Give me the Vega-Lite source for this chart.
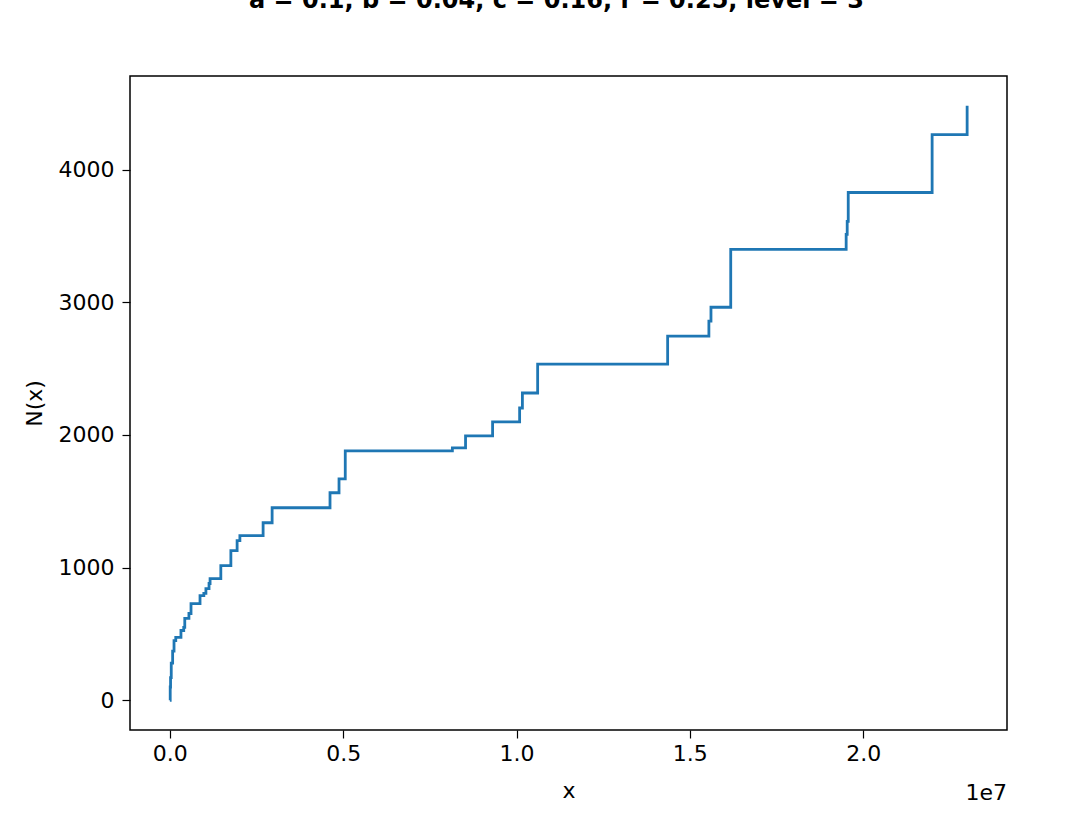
{
  "$schema": "https://vega.github.io/schema/vega-lite/v6.json",
  "width": 877,
  "height": 654,
  "autosize": {"type": "none"},
  "padding": {"left": 130, "top": 76, "right": 69, "bottom": 93},
  "background": "white",
  "config": {
    "view": {"stroke": "black", "strokeWidth": 1.5},
    "font": "DejaVu Sans",
    "axis": {
      "grid": false,
      "domain": false,
      "tickColor": "black",
      "tickSize": 8,
      "tickWidth": 1.2,
      "labelColor": "black",
      "labelFont": "DejaVu Sans",
      "labelFontSize": 22,
      "titleFont": "DejaVu Sans",
      "titleFontSize": 22,
      "titleFontWeight": "normal",
      "titleColor": "black"
    }
  },
  "title": {
    "text": "a = 0.1, b = 0.04, c = 0.16, r = 0.25, level = 3",
    "font": "DejaVu Sans",
    "fontSize": 24,
    "fontWeight": "bold",
    "color": "black",
    "anchor": "middle",
    "baseline": "alphabetic",
    "offset": 44,
    "dx": -12
  },
  "layer": [
    {
      "data": {
        "values": [
          {"x": 0, "y": 0},
          {"x": 10000, "y": 100},
          {"x": 20000, "y": 170},
          {"x": 40000, "y": 280},
          {"x": 80000, "y": 370},
          {"x": 120000, "y": 450},
          {"x": 170000, "y": 474},
          {"x": 320000, "y": 526},
          {"x": 400000, "y": 549},
          {"x": 430000, "y": 617},
          {"x": 550000, "y": 654},
          {"x": 610000, "y": 729},
          {"x": 870000, "y": 789},
          {"x": 980000, "y": 805},
          {"x": 1040000, "y": 842},
          {"x": 1130000, "y": 880},
          {"x": 1160000, "y": 917},
          {"x": 1470000, "y": 1015},
          {"x": 1760000, "y": 1128},
          {"x": 1940000, "y": 1203},
          {"x": 2020000, "y": 1241},
          {"x": 2690000, "y": 1338},
          {"x": 2950000, "y": 1451},
          {"x": 4620000, "y": 1564},
          {"x": 4880000, "y": 1669},
          {"x": 5060000, "y": 1880},
          {"x": 8150000, "y": 1902},
          {"x": 8530000, "y": 1992},
          {"x": 9310000, "y": 2098},
          {"x": 10090000, "y": 2203},
          {"x": 10170000, "y": 2316},
          {"x": 10610000, "y": 2534},
          {"x": 14360000, "y": 2744},
          {"x": 15550000, "y": 2857},
          {"x": 15610000, "y": 2962},
          {"x": 16180000, "y": 3398},
          {"x": 19510000, "y": 3511},
          {"x": 19540000, "y": 3609},
          {"x": 19570000, "y": 3827},
          {"x": 21990000, "y": 4263},
          {"x": 23000000, "y": 4481}
        ]
      },
      "mark": {"type": "line", "interpolate": "step-after", "color": "#1f77b4", "strokeWidth": 2.8},
      "encoding": {
        "x": {
          "field": "x",
          "type": "quantitative",
          "scale": {"domain": [-1150000, 24150000], "nice": false, "zero": false},
          "axis": {
            "title": "x",
            "titlePadding": 16,
            "labelPadding": 5,
            "values": [0, 5000000, 10000000, 15000000, 20000000],
            "labelExpr": "format(datum.value / 10000000, '.1f')"
          }
        },
        "y": {
          "field": "y",
          "type": "quantitative",
          "scale": {"domain": [-224, 4705], "nice": false, "zero": false},
          "axis": {
            "title": "N(x)",
            "titlePadding": 12,
            "labelPadding": 8,
            "format": "d",
            "values": [0, 1000, 2000, 3000, 4000]
          }
        }
      }
    },
    {
      "data": {"values": [{"x": 24150000, "y": -224, "t": "1e7"}]},
      "mark": {"type": "text", "align": "right", "baseline": "alphabetic", "dy": 70, "fontSize": 22, "font": "DejaVu Sans", "color": "black"},
      "encoding": {
        "x": {"field": "x", "type": "quantitative"},
        "y": {"field": "y", "type": "quantitative"},
        "text": {"field": "t"}
      }
    }
  ]
}
